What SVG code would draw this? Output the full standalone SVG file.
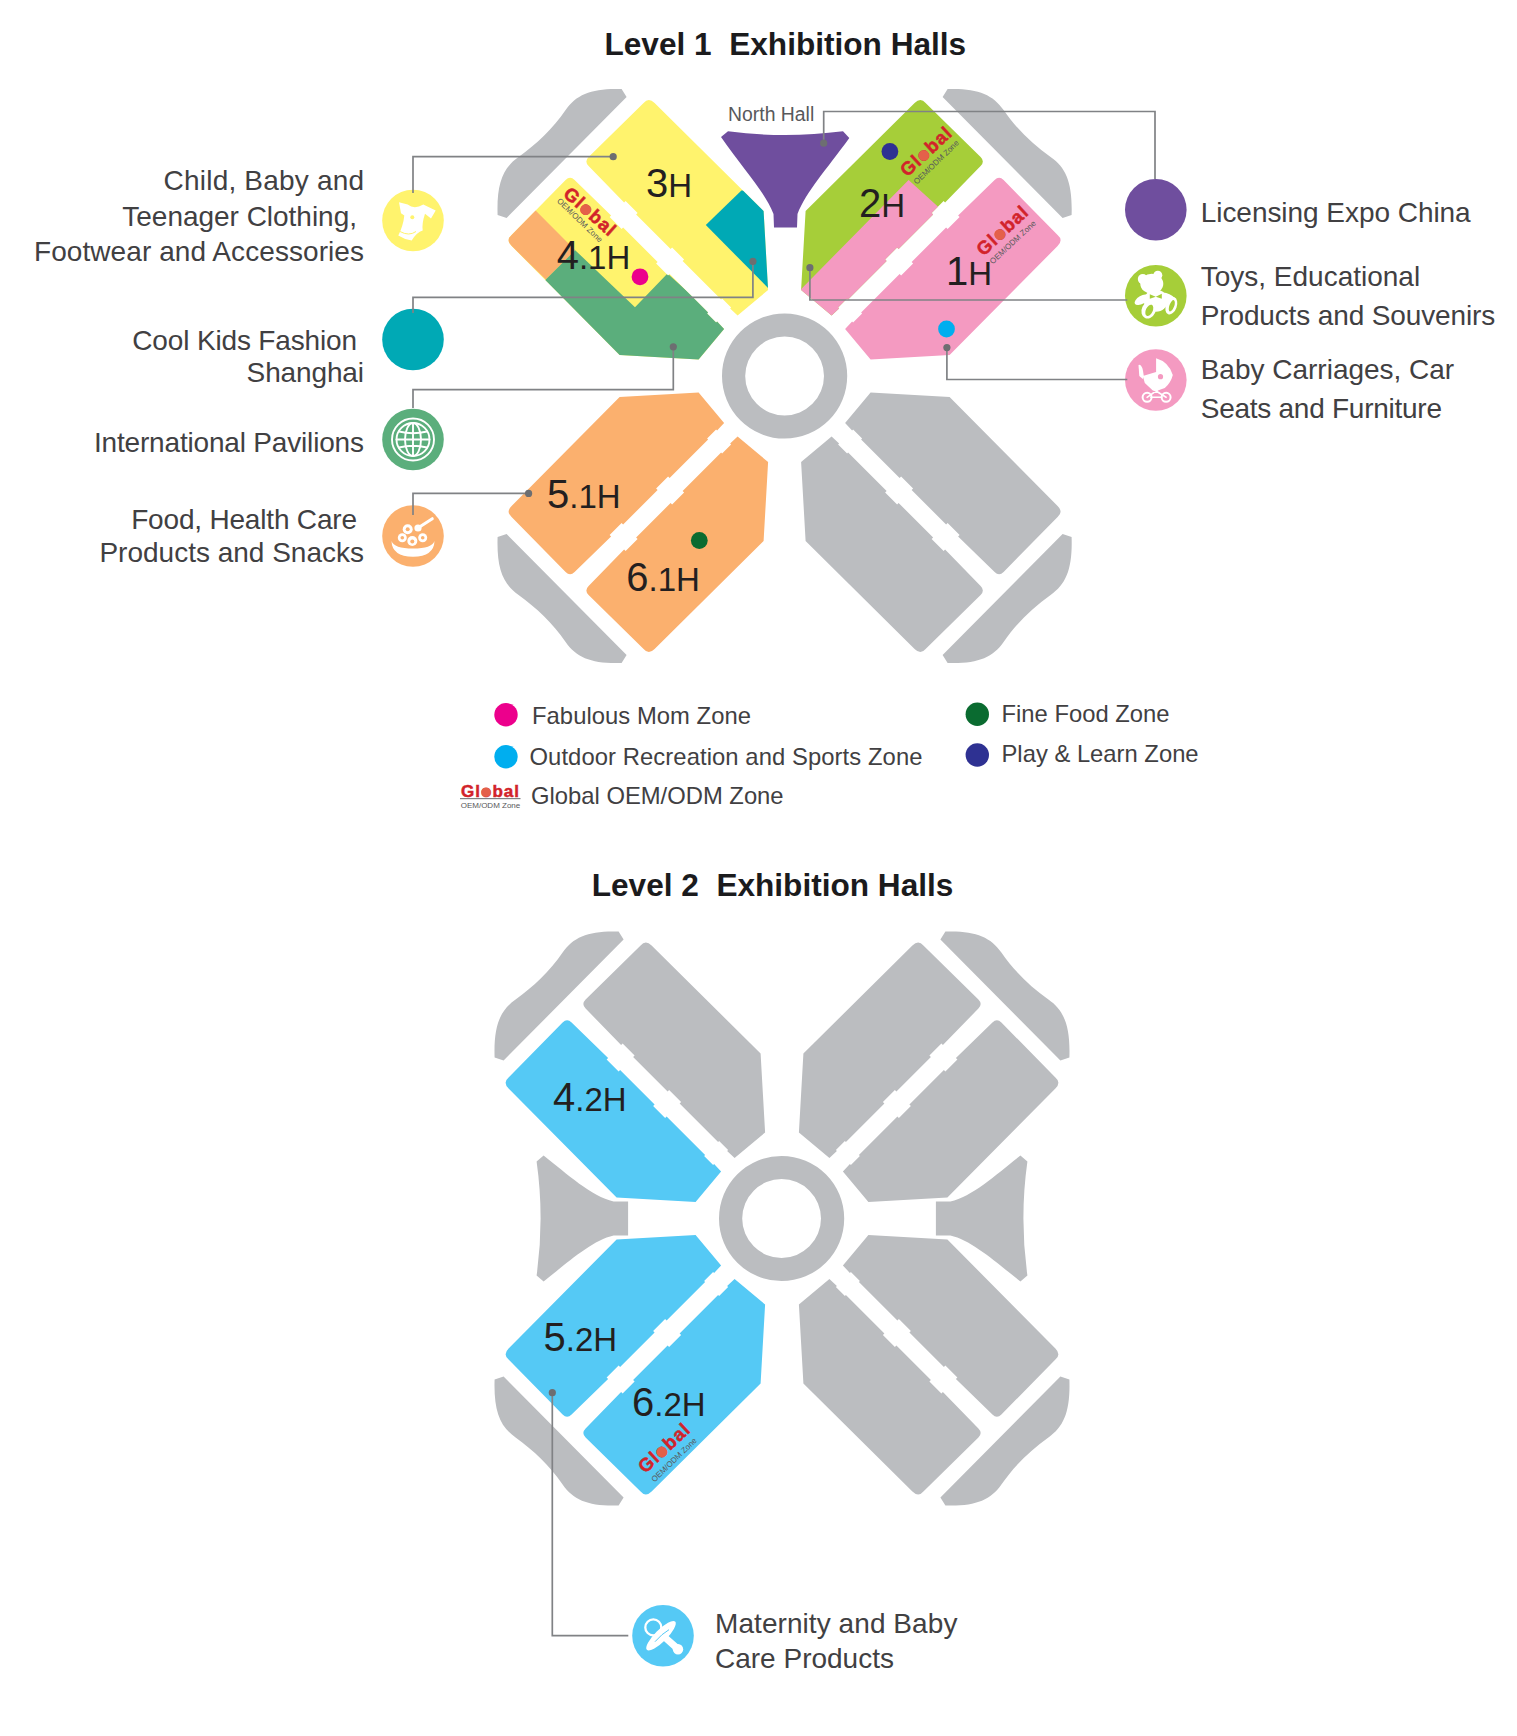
<svg xmlns="http://www.w3.org/2000/svg" width="1517" height="1736" viewBox="0 0 1517 1736">
<style>
text{font-family:"Liberation Sans",Arial,sans-serif}
.title{font-size:31.6px;font-weight:700;fill:#1b1b1d;white-space:pre}
.lab{font-size:28px;fill:#414042;white-space:pre}
.end{text-anchor:end}
.leg{font-size:23.8px;fill:#414042}
.hall{font-size:40px;fill:#231f20}
.hall tspan{font-size:33px}
.north{font-size:19.4px;fill:#58595b}
.gr{font-size:18.5px;font-weight:700;fill:#d2232a;stroke:#d2232a;stroke-width:.5px;letter-spacing:1px;text-anchor:middle}
.gr tspan{fill:#e4604a}
.ball{fill:#e4604a}
.gs{font-size:8px;fill:#58595b;text-anchor:middle}
.grey{fill:#bbbdc0}.yel{fill:#fff36d}.teal{fill:#00a9b5}.pur{fill:#6f4e9e}.lime{fill:#a6ce39}.pink{fill:#f49ac1}.ora{fill:#fbb06e}.grn{fill:#5bae7c}.blue{fill:#55c9f5}
.w{fill:#fff}
.ws{fill:none;stroke:#fff;stroke-linecap:round}
.conn{fill:none;stroke:#808285;stroke-width:1.7}
</style>
<defs>
<path id="a" d="M-141,-273Q-136,-279 -130,-273L-21,-165L-16.5,-86L-47,-60.5L-54.5,-67.5L-53.5,-68.5L-62.5,-77.5L-63.5,-76.5L-102,-115L-100.5,-116.5L-112.5,-128.5L-114,-127L-148.5,-161.5L-147,-163L-159,-175L-160.5,-173.5L-196,-210Q-200.5,-214.5 -196,-219Z"/>
<path id="c" d="M-158,-279L-163,-287C-192,-288 -208,-282 -219,-266C-232,-247 -248,-232 -266,-219C-282,-208 -288,-192 -287,-161L-278,-158Z"/>
<path id="s" d="M-245,-57L-238,-63C-215,-45 -190,-22 -168,-17L-153.5,-17L-153.5,17L-168,17C-190,22 -215,45 -238,63L-245,57Q-237,0 -245,-57Z"/>
<path id="r" fill-rule="evenodd" d="M-62.6,0A62.6,62.6 0 1 1 62.6,0A62.6,62.6 0 1 1 -62.6,0ZM-39.4,0A39.4,39.4 0 1 0 39.4,0A39.4,39.4 0 1 0 -39.4,0Z"/>
<marker id="dot" markerUnits="userSpaceOnUse" markerWidth="10" markerHeight="10" refX="5" refY="5"><circle cx="5" cy="5" r="3.6" fill="#6d6e71"/></marker>
<clipPath id="c41"><use href="#a" transform="translate(784.6,376) matrix(0 1 1 0 0 0)"/></clipPath>
<clipPath id="c3"><use href="#a" transform="translate(784.6,376)"/></clipPath>
<clipPath id="c2"><use href="#a" transform="translate(784.6,376) scale(-1,1)"/></clipPath>
</defs>

<text class="title" x="604.5" y="55" xml:space="preserve">Level 1  Exhibition Halls</text>

<g id="level1-plan">
<g id="corners-l1" class="grey">
<use href="#c" transform="translate(784.6,376)"/>
<use href="#c" transform="translate(784.6,376) scale(-1,1)"/>
<use href="#c" transform="translate(784.6,376) scale(1,-1)"/>
<use href="#c" transform="translate(784.6,376) scale(-1,-1)"/>
</g>
<use id="ring-l1" class="grey" href="#r" transform="translate(784.6,376)"/>
<g id="hall-3h"><use class="yel" href="#a" transform="translate(784.6,376)"/><g clip-path="url(#c3)"><polygon class="teal" points="741.4,190.6 770,190 775,295 705.8,225"/></g></g>
<g id="hall-4-1h"><use class="yel" href="#a" transform="translate(784.6,376) matrix(0 1 1 0 0 0)"/><g clip-path="url(#c41)"><polygon class="ora" points="536.6,211.6 575.2,250.2 545.8,279.6 490,225 505,180"/><polygon class="grn" points="545.8,279.6 575.2,250.2 635,307.2 667.5,273.6 730,330 680,410 560,380 500,330"/></g></g>
<g id="hall-2h"><use class="lime" href="#a" transform="translate(784.6,376) scale(-1,1)"/><g clip-path="url(#c2)"><polygon class="pink" points="800.7,289.5 908.6,179.9 945,213 900,300 830,330 790,300"/></g></g>
<g id="hall-1h"><use class="pink" href="#a" transform="translate(784.6,376) scale(-1,1) matrix(0 1 1 0 0 0)"/></g>
<g id="hall-5-1h"><use class="ora" href="#a" transform="translate(784.6,376) scale(1,-1) matrix(0 1 1 0 0 0)"/></g>
<g id="hall-6-1h"><use class="ora" href="#a" transform="translate(784.6,376) scale(1,-1)"/></g>
<use id="hall-l1-se1" class="grey" href="#a" transform="translate(784.6,376) scale(-1,-1)"/>
<use id="hall-l1-se2" class="grey" href="#a" transform="translate(784.6,376) scale(-1,-1) matrix(0 1 1 0 0 0)"/>
<path id="north-hall" class="pur" d="M721,137L728,131.3Q785,138.7 843,131.3L849.3,138C826,170 806,192 797.5,214L797,227.4L774,227.4L773.5,214C765,192 744,170 721,137Z"/>
</g>

<g id="logos-l1">
<g transform="translate(590,212) rotate(42)"><text class="gr" y="6">Gl<tspan>o</tspan>bal</text><circle class="ball" cx="-4.6" cy="1.2" r="5.2"/></g>
<g transform="translate(580,220) rotate(44)"><text class="gs" y="3">OEM/ODM Zone</text></g>
<g transform="translate(926.4,151.5) rotate(-43)"><text class="gr" y="6">Gl<tspan>o</tspan>bal</text><circle class="ball" cx="-4.6" cy="1.2" r="5.2"/></g>
<g transform="translate(936,162) rotate(-44)"><text class="gs" y="3">OEM/ODM Zone</text></g>
<g transform="translate(1002.6,230.6) rotate(-43)"><text class="gr" y="6">Gl<tspan>o</tspan>bal</text><circle class="ball" cx="-4.6" cy="1.2" r="5.2"/></g>
<g transform="translate(1012.6,242) rotate(-43)"><text class="gs" y="3">OEM/ODM Zone</text></g>
</g>

<g id="zone-dots">
<circle cx="640" cy="276.8" r="8.4" fill="#ec008c"/>
<circle cx="946.5" cy="329" r="8.4" fill="#00aeef"/>
<circle cx="889.9" cy="151.5" r="8.4" fill="#2e3192"/>
<circle cx="699.3" cy="540.5" r="8.4" fill="#0a6b30"/>
</g>

<g id="node-clothing" transform="translate(413,220.5)">
<circle class="yel" r="30.8"/>
<path class="w" d="M-14,-18.3L-5.3,-16Q1.3,-10.7 10.3,-16L22.7,-10L18,-2L12,-6.7Q8.7,3.3 9.7,10Q3.7,11.7 -1.3,20Q-8,19.3 -14.7,15Q-9.7,5 -8.7,-5L-12,-7.3Z"/>
<circle class="yel" cx="-0.7" cy="-3.3" r="2"/>
<path d="M-13,11Q-4,16 3,11" fill="none" stroke="#fff36d" stroke-width="1"/>
</g>
<g id="node-cool-kids"><circle class="teal" cx="413" cy="339.5" r="30.8"/></g>
<g id="node-pavilions" transform="translate(413,439.5)">
<circle class="grn" r="30.8"/>
<g class="ws" stroke-width="1.9"><circle r="21"/><circle r="16.5"/><ellipse rx="8" ry="16.5"/><path d="M0,-16.5V16.5M-16.5,0H16.5M-14,-8Q0,-4.5 14,-8M-14,8Q0,4.5 14,8"/></g>
</g>
<g id="node-food" transform="translate(413,536)">
<circle class="ora" r="30.8"/>
<path class="w" d="M-21.5,5Q-21,20.5 0,20.7Q21,20.5 21.5,5Q19,12.5 0,12.5Q-19,12.5 -21.5,5Z"/>
<path class="ws" stroke-width="3" d="M5.3,-8.3L19.3,-17.3"/>
<circle class="w" cx="5" cy="-8" r="3.6"/>
<g class="w"><circle cx="-5.3" cy="-6.7" r="5"/><circle cx="-10.7" cy="1.7" r="4.5"/><circle cx="-0.7" cy="5" r="5"/><circle cx="9.7" cy="1.7" r="4.5"/></g>
<g class="ora"><circle cx="-5.3" cy="-6.7" r="2"/><circle cx="-10.7" cy="1.7" r="1.8"/><circle cx="-0.7" cy="5.5" r="2"/><circle cx="9.7" cy="1.7" r="1.8"/></g>
</g>
<g id="node-licensing"><circle class="pur" cx="1155.8" cy="209.7" r="30.8"/></g>
<g id="node-toys" transform="translate(1155.8,295.8)">
<circle class="lime" r="30.8"/>
<g class="w"><circle cx="-13" cy="-16.7" r="5"/><circle cx="2" cy="-20.5" r="4.5"/><ellipse cx="-4" cy="-12" rx="11.5" ry="10"/>
<ellipse cx="0" cy="5" rx="12" ry="11"/><ellipse cx="-14" cy="4" rx="8" ry="4" transform="rotate(-30 -14 4)"/><ellipse cx="12" cy="2" rx="9" ry="4" transform="rotate(25 12 2)"/>
<ellipse cx="-7" cy="14" rx="7" ry="9" transform="rotate(25 -7 14)"/><ellipse cx="15.5" cy="10" rx="5.5" ry="9" transform="rotate(20 15.5 10)"/></g>
<g class="lime"><path d="M-6,-1.5L0,1L6,-2L6,3L0,1L-6,3Z"/><ellipse cx="-6.5" cy="14.5" rx="3.4" ry="6" transform="rotate(25 -6.5 14.5)"/><ellipse cx="16" cy="10" rx="2.4" ry="6" transform="rotate(20 16 10)"/></g>
</g>
<g id="node-carriages" transform="translate(1155.8,380)">
<circle class="pink" r="30.8"/>
<path class="w" d="M0.3,-21.7Q13,-18 17,-5Q15,3 9,8Q2,11 -3,10.5L-11,3L-13,-4L0.3,-8Z"/>
<path class="w" d="M-17.3,-15Q-13.5,-17 -12,-4L-13,-1L-16.5,-4Z"/>
<circle class="pink" cx="4.7" cy="-3.3" r="2.6"/>
<path class="ws" stroke-width="1.6" d="M-3,9L10.3,17.3M3,9L-8.7,17.3M-5,17.3H6"/>
<circle cx="-8.7" cy="17.3" r="4.5" fill="none" stroke="#fff" stroke-width="2"/>
<circle cx="10.3" cy="17.3" r="4.5" fill="none" stroke="#fff" stroke-width="2"/>
</g>

<text class="title" x="591.7" y="896" xml:space="preserve">Level 2  Exhibition Halls</text>

<g id="level2-plan">
<g id="corners-l2" class="grey">
<use href="#c" transform="translate(781.6,1218.5)"/>
<use href="#c" transform="translate(782.4,1218.5) scale(-1,1)"/>
<use href="#c" transform="translate(781.6,1218.5) scale(1,-1)"/>
<use href="#c" transform="translate(782.4,1218.5) scale(-1,-1)"/>
</g>
<use id="ring-l2" class="grey" href="#r" transform="translate(781.6,1218.5)"/>
<use class="grey" href="#s" transform="translate(781.6,1218.5)"/>
<use class="grey" href="#s" transform="translate(782.4,1218.5) scale(-1,1)"/>
<use class="grey" href="#a" transform="translate(781.6,1218.5)"/>
<use class="grey" href="#a" transform="translate(782.4,1218.5) scale(-1,1)"/>
<use class="grey" href="#a" transform="translate(782.4,1218.5) scale(-1,1) matrix(0 1 1 0 0 0)"/>
<use class="grey" href="#a" transform="translate(782.4,1218.5) scale(-1,-1)"/>
<use class="grey" href="#a" transform="translate(782.4,1218.5) scale(-1,-1) matrix(0 1 1 0 0 0)"/>
<use id="hall-4-2h" class="blue" href="#a" transform="translate(781.6,1218.5) matrix(0 1 1 0 0 0)"/>
<use id="hall-5-2h" class="blue" href="#a" transform="translate(781.6,1218.5) scale(1,-1) matrix(0 1 1 0 0 0)"/>
<use id="hall-6-2h" class="blue" href="#a" transform="translate(781.6,1218.5) scale(1,-1)"/>
</g>
<g id="node-maternity" transform="translate(663,1635.7)">
<circle class="blue" r="30.8"/>
<circle cx="-9.7" cy="-8.3" r="8" fill="none" stroke="#fff" stroke-width="2.3"/>
<ellipse class="w" cx="-2" cy="0" rx="20" ry="6" transform="rotate(-45 -2 0)"/>
<path class="ws" stroke-width="7" d="M3.7,3.3L14,12.5"/>
<circle class="w" cx="15" cy="13.5" r="5.2"/>
<path d="M-8,6Q-1,-2 6,-6" fill="none" stroke="#55c9f5" stroke-width="1"/>
</g>

<g id="connectors" class="conn">
<path marker-end="url(#dot)" d="M413,193V156.7H613.2"/>
<path marker-end="url(#dot)" d="M413,313V297.3H752.9V261.4"/>
<path marker-end="url(#dot)" d="M413,408V389.7H673.3V346.8"/>
<path marker-end="url(#dot)" d="M413,515V493.4H528.6"/>
<path marker-end="url(#dot)" d="M1155,179V111.5H823.7V143.2"/>
<path marker-end="url(#dot)" d="M1127.3,300H809.9V267.7"/>
<path marker-end="url(#dot)" d="M1127.3,379.5H946.9V347.6"/>
<path marker-end="url(#dot)" d="M628.3,1635.7H552.3V1392.7"/>
</g>

<g id="hall-labels-l1">
<text class="hall" x="646" y="197.3">3<tspan>H</tspan></text>
<text class="hall" x="859" y="217">2<tspan>H</tspan></text>
<text class="hall" x="946" y="284.7">1<tspan>H</tspan></text>
<text class="hall" x="556.7" y="268.9">4<tspan>.1H</tspan></text>
<text class="hall" x="547" y="508">5<tspan>.1H</tspan></text>
<text class="hall" x="626.3" y="590.8">6<tspan>.1H</tspan></text>
<text class="north" x="728" y="120.6">North Hall</text>
</g>

<g id="labels-left">
<text class="lab end" x="364" y="190" textLength="200.4">Child, Baby and</text>
<text class="lab end" x="357" y="226" textLength="234.7">Teenager Clothing,</text>
<text class="lab end" x="364" y="261" textLength="330">Footwear and Accessories</text>
<text class="lab end" x="357" y="349.5" textLength="224.7">Cool Kids Fashion</text>
<text class="lab end" x="364" y="381.7" textLength="117.4">Shanghai</text>
<text class="lab end" x="364" y="452" textLength="270">International Pavilions</text>
<text class="lab end" x="357" y="529" textLength="225.8">Food, Health Care</text>
<text class="lab end" x="364" y="561.7" textLength="264.6">Products and Snacks</text>
</g>
<g id="labels-right">
<text class="lab" x="1200.7" y="221.7" textLength="270">Licensing Expo China</text>
<text class="lab" x="1200.7" y="285.7">Toys, Educational</text>
<text class="lab" x="1200.7" y="325" textLength="294.5">Products and Souvenirs</text>
<text class="lab" x="1200.7" y="379" textLength="253.5">Baby Carriages, Car</text>
<text class="lab" x="1200.7" y="418.3" textLength="241.3">Seats and Furniture</text>
</g>

<g id="legend">
<g id="legend-mom"><circle cx="506" cy="714.7" r="11.7" fill="#ec008c"/><text class="leg" x="532" y="724.3" textLength="219">Fabulous Mom Zone</text></g>
<g id="legend-outdoor"><circle cx="506" cy="756.7" r="11.7" fill="#00aeef"/><text class="leg" x="529.5" y="765" textLength="393">Outdoor Recreation and Sports Zone</text></g>
<g id="legend-oem"><text x="490.5" y="797" text-anchor="middle" font-size="17" font-weight="700" fill="#d2232a" stroke="#d2232a" stroke-width=".5" letter-spacing="1">Gl<tspan fill="#e4604a">o</tspan>bal</text><circle class="ball" cx="486" cy="792" r="4.6"/><rect x="460" y="798" width="60.5" height="1.2" fill="#808285"/><text x="490.5" y="807.5" text-anchor="middle" font-size="8" fill="#58595b">OEM/ODM Zone</text><text class="leg" x="531" y="804">Global OEM/ODM Zone</text></g>
<g id="legend-food"><circle cx="977.3" cy="714.3" r="11.7" fill="#0a6b30"/><text class="leg" x="1001.5" y="722.3">Fine Food Zone</text></g>
<g id="legend-play"><circle cx="977.3" cy="755" r="11.7" fill="#2e3192"/><text class="leg" x="1001.5" y="761.7">Play &amp; Learn Zone</text></g>
</g>

<g id="hall-labels-l2">
<text class="hall" x="553" y="1111.3">4<tspan>.2H</tspan></text>
<text class="hall" x="543.5" y="1351.3">5<tspan>.2H</tspan></text>
<text class="hall" x="632" y="1415.6">6<tspan>.2H</tspan></text>
<g transform="translate(664.5,1448) rotate(-43)"><text class="gr" y="6">Gl<tspan>o</tspan>bal</text><circle class="ball" cx="-4.6" cy="1.2" r="5.2"/></g>
<g transform="translate(673.8,1459.7) rotate(-44)"><text class="gs" y="3">OEM/ODM Zone</text></g>
</g>
<g id="labels-maternity">
<text class="lab" x="715" y="1632.7" textLength="242.4">Maternity and Baby</text>
<text class="lab" x="715" y="1668.3">Care Products</text>
</g>
</svg>
